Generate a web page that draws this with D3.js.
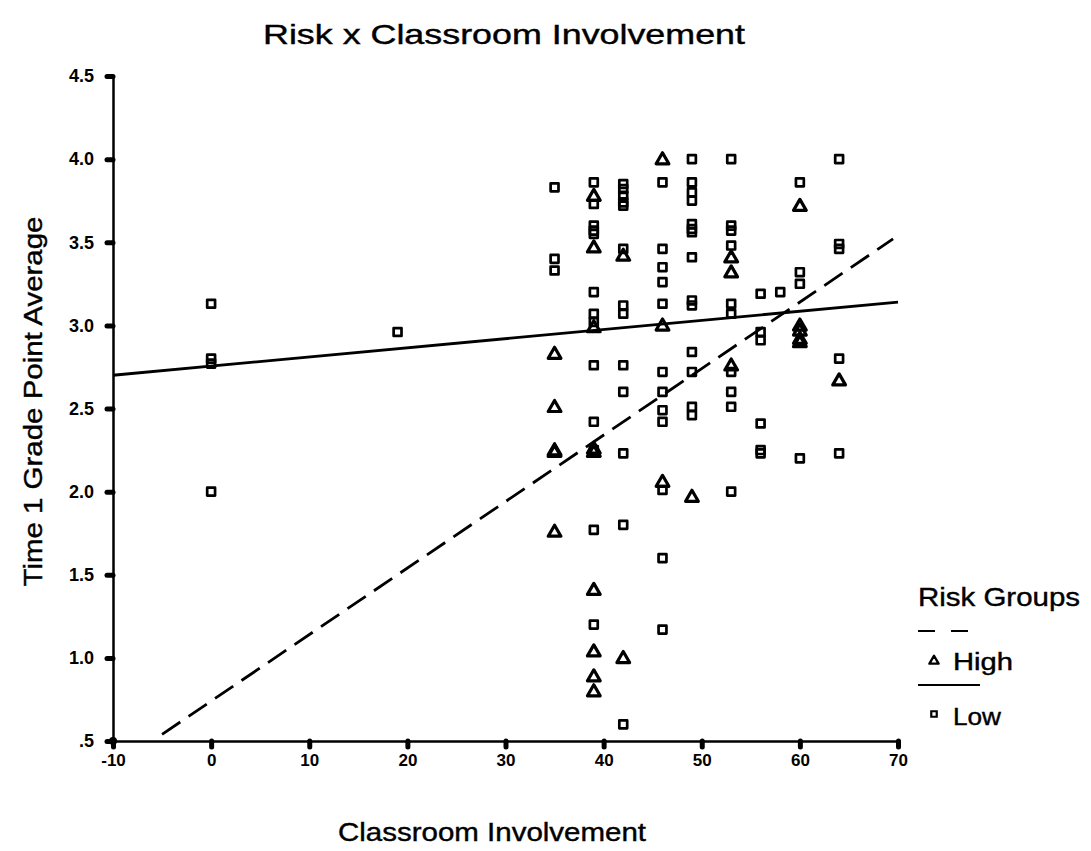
<!DOCTYPE html>
<html>
<head>
<meta charset="utf-8">
<script src="https://cdn.jsdelivr.net/npm/d3@7/dist/d3.min.js"></script>
<style>
  body { margin: 0; background: #fff; }
  svg { font-family: "Liberation Sans", Arial, sans-serif; }
</style>
</head>
<body>
<div id="chart"></div>
<script>
// points du groupe "High" (triangles) : [implication, moyenne]
const highPoints = [
  [35, 2.83], [35, 2.51], [35, 2.25], [35, 2.24], [35, 1.76],
  [39, 3.78], [39, 3.47], [39, 2.99], [39, 2.26], [39, 2.24], [39, 1.41], [39, 1.04], [39, 0.89], [39, 0.80],
  [42, 3.42], [42, 1.00],
  [46, 4.00], [46, 3.00], [46, 2.06],
  [49, 1.97],
  [53, 3.41], [53, 3.32], [53, 2.76],
  [60, 3.72], [60, 3.00], [60, 2.97], [60, 2.92], [60, 2.90],
  [64, 2.67]
];
// points du groupe "Low" (carrés)
const lowPoints = [
  [0, 3.13], [0, 2.80], [0, 2.77], [0, 2.00],
  [19, 2.96],
  [35, 3.83], [35, 3.40], [35, 3.33],
  [39, 3.86], [39, 3.73], [39, 3.60], [39, 3.57], [39, 3.55], [39, 3.20], [39, 3.07], [39, 3.02], [39, 2.76], [39, 2.42], [39, 2.25], [39, 1.77], [39, 1.20],
  [42, 3.85], [42, 3.82], [42, 3.78], [42, 3.74], [42, 3.72], [42, 3.46], [42, 3.12], [42, 3.07], [42, 2.76], [42, 2.60], [42, 2.23], [42, 1.80], [42, 0.60],
  [46, 3.86], [46, 3.46], [46, 3.35], [46, 3.26], [46, 3.13], [46, 2.72], [46, 2.60], [46, 2.49], [46, 2.42], [46, 2.01], [46, 1.60], [46, 1.17],
  [49, 4.00], [49, 3.86], [49, 3.80], [49, 3.75], [49, 3.61], [49, 3.58], [49, 3.56], [49, 3.41], [49, 3.15], [49, 3.12], [49, 2.84], [49, 2.72], [49, 2.51], [49, 2.46],
  [53, 4.00], [53, 3.60], [53, 3.57], [53, 3.48], [53, 3.13], [53, 3.07], [53, 2.72], [53, 2.60], [53, 2.51], [53, 2.00],
  [56, 3.19], [56, 2.96], [56, 2.91], [56, 2.41], [56, 2.25], [56, 2.23],
  [58, 3.20],
  [60, 3.86], [60, 3.32], [60, 3.25], [60, 2.20],
  [64, 4.00], [64, 3.49], [64, 3.46], [64, 2.80], [64, 2.23]
];
// droites de régression (extrémités)
const highFit = [[-5, 0.54], [69.5, 3.52]];
const lowFit = [[-10, 2.70], [70, 3.14]];
// graduations
const xTicks = [-10, 0, 10, 20, 30, 40, 50, 60, 70];
const yTicks = [0.5, 1.0, 1.5, 2.0, 2.5, 3.0, 3.5, 4.0, 4.5];

const width = 1091, height = 851;
const svg = d3.select("#chart").append("svg")
    .attr("width", width)
    .attr("height", height);

const x = d3.scaleLinear().domain([-10, 70]).range([113, 898]);
const y = d3.scaleLinear().domain([0.5, 4.5]).range([741, 76]);

// titre
svg.append("text")
    .attr("x", 504).attr("y", 44)
    .attr("text-anchor", "middle")
    .attr("font-size", 28)
    .attr("textLength", 482).attr("lengthAdjust", "spacingAndGlyphs")
    .attr("stroke", "#000").attr("stroke-width", 0.4)
    .text("Risk x Classroom Involvement");

// axes
const xAxis = svg.append("g")
    .attr("transform", `translate(0,${y(0.5)})`)
    .call(d3.axisBottom(x).tickValues(xTicks).tickSize(6).tickPadding(7).tickFormat(d => String(d)));
const yAxis = svg.append("g")
    .attr("transform", `translate(${x(-10)},0)`)
    .call(d3.axisLeft(y).tickValues(yTicks).tickSize(6).tickPadding(13)
        .tickFormat(d => d === 0.5 ? ".5" : d.toFixed(1)));

[xAxis, yAxis].forEach(g => {
  g.select(".domain").attr("stroke", "#000").attr("stroke-width", 2.5);
  g.selectAll(".tick line").attr("stroke", "#000").attr("stroke-width", 5).attr("stroke-linecap", "round");
  g.selectAll(".tick text")
      .attr("font-family", "'Liberation Sans', Arial, sans-serif")
      .attr("font-size", 18).attr("font-weight", "bold").attr("fill", "#000");
});
xAxis.selectAll(".tick text").attr("font-size", 17);

// point d'origine
svg.append("circle").attr("cx", x(-10)).attr("cy", y(0.5)).attr("r", 4).attr("fill", "#000");

// titres des axes
svg.append("text")
    .attr("transform", `translate(42,${(y(4.5) + y(0.5)) / 2 - 7}) rotate(-90)`)
    .attr("text-anchor", "middle")
    .attr("font-size", 26)
    .attr("textLength", 370).attr("lengthAdjust", "spacingAndGlyphs")
    .attr("stroke", "#000").attr("stroke-width", 0.4)
    .text("Time 1 Grade Point Average");
svg.append("text")
    .attr("x", 492).attr("y", 841)
    .attr("text-anchor", "middle")
    .attr("font-size", 25)
    .attr("textLength", 308).attr("lengthAdjust", "spacingAndGlyphs")
    .attr("stroke", "#000").attr("stroke-width", 0.4)
    .text("Classroom Involvement");

// droites
const line = d3.line().x(d => x(d[0])).y(d => y(d[1]));
svg.append("path").datum(lowFit)
    .attr("d", line).attr("fill", "none").attr("stroke", "#000").attr("stroke-width", 2.8);
svg.append("path").datum(highFit)
    .attr("d", line).attr("fill", "none").attr("stroke", "#000").attr("stroke-width", 2.8)
    .attr("stroke-dasharray", "22,10");

// symboles
const sq = d3.symbol().type(d3.symbolSquare).size(62);
const tri = d3.symbol().type(d3.symbolTriangle).size(70);

svg.append("g").selectAll("path")
    .data(lowPoints)
    .enter()
    .append("path")
    .attr("d", sq)
    .attr("transform", d => `translate(${x(d[0])},${y(d[1])})`)
    .attr("fill", "none")
    .attr("stroke", "#000").attr("stroke-width", 2.7).attr("stroke-linejoin", "round");

svg.append("g").selectAll("path")
    .data(highPoints)
    .enter()
    .append("path")
    .attr("d", tri)
    .attr("transform", d => `translate(${x(d[0])},${y(d[1]) + 1})`)
    .attr("fill", "none")
    .attr("stroke", "#000").attr("stroke-width", 3.2).attr("stroke-linejoin", "round");

// légende
const leg = svg.append("g");
leg.append("text").attr("x", 918).attr("y", 606).attr("font-size", 25)
    .attr("textLength", 162).attr("lengthAdjust", "spacingAndGlyphs")
    .attr("stroke", "#000").attr("stroke-width", 0.4)
    .text("Risk Groups");
leg.append("line").attr("x1", 918).attr("x2", 974).attr("y1", 631).attr("y2", 631)
    .attr("stroke", "#000").attr("stroke-width", 2).attr("stroke-dasharray", "17,16");
leg.append("path").attr("d", d3.symbol().type(d3.symbolTriangle).size(36))
    .attr("transform", "translate(934,661)")
    .attr("fill", "none").attr("stroke", "#000").attr("stroke-width", 2.4).attr("stroke-linejoin", "round");
leg.append("text").attr("x", 953).attr("y", 670).attr("font-size", 23)
    .attr("textLength", 60).attr("lengthAdjust", "spacingAndGlyphs")
    .attr("stroke", "#000").attr("stroke-width", 0.4)
    .text("High");
leg.append("line").attr("x1", 918).attr("x2", 980).attr("y1", 685).attr("y2", 685)
    .attr("stroke", "#000").attr("stroke-width", 2);
leg.append("path").attr("d", d3.symbol().type(d3.symbolSquare).size(30))
    .attr("transform", "translate(934,714)")
    .attr("fill", "none").attr("stroke", "#000").attr("stroke-width", 2.2);
leg.append("text").attr("x", 953).attr("y", 725).attr("font-size", 23)
    .attr("textLength", 48).attr("lengthAdjust", "spacingAndGlyphs")
    .attr("stroke", "#000").attr("stroke-width", 0.4)
    .text("Low");
</script>
</body>
</html>
